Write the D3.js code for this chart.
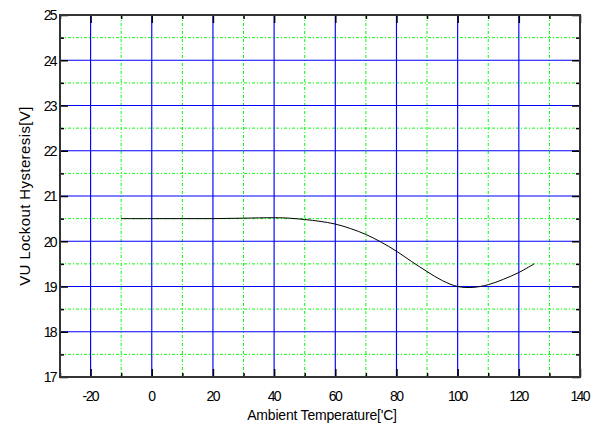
<!DOCTYPE html>
<html><head><meta charset="utf-8">
<script src="https://cdn.jsdelivr.net/npm/d3@7"></script>
<style>body{margin:0;background:#fff}svg{display:block}text{font-family:"Liberation Sans",Arial,sans-serif}</style>
</head><body>
<script>
const temps = [-10, 0, 10, 20, 30, 40, 45, 50, 55, 60, 65, 70, 75, 80, 85, 90, 95, 100, 105, 110, 115, 120, 125];
const hyst  = [20.5, 20.5, 20.5, 20.5, 20.51, 20.52, 20.51, 20.48, 20.44, 20.38, 20.28, 20.15, 19.98, 19.78, 19.55, 19.33, 19.13, 19.0, 18.98, 19.04, 19.16, 19.31, 19.5];
const xTicks = [-20, 0, 20, 40, 60, 80, 100, 120, 140];
const yTicks = [17, 18, 19, 20, 21, 22, 23, 24, 25];
const xMinor = [-30, -10, 10, 30, 50, 70, 90, 110, 130];
const yMinor = [17.5, 18.5, 19.5, 20.5, 21.5, 22.5, 23.5, 24.5];

const W = 591, H = 429;
const L = 60, R = 580, T = 15, B = 377;
const svg = d3.select("body").append("svg").attr("width", W).attr("height", H);
const x = d3.scaleLinear().domain([-30, 140]).range([L, R]);
const y = d3.scaleLinear().domain([17, 25]).range([B, T]);

// minor grid (green dotted)
svg.append("g").selectAll("line").data(xMinor.filter(v => v > -30)).join("line")
  .attr("x1", d => x(d)).attr("x2", d => x(d)).attr("y1", T).attr("y2", B)
  .attr("stroke", "#00ff00").attr("stroke-dasharray", "3,2,1,2").attr("stroke-width", 1);
svg.append("g").selectAll("line").data(yMinor).join("line")
  .attr("y1", d => y(d)).attr("y2", d => y(d)).attr("x1", L).attr("x2", R)
  .attr("stroke", "#00ff00").attr("stroke-dasharray", "3,2,1,2").attr("stroke-width", 1);
// major grid (blue)
svg.append("g").selectAll("line").data(xTicks.filter(v => v < 140)).join("line")
  .attr("x1", d => x(d)).attr("x2", d => x(d)).attr("y1", T).attr("y2", B)
  .attr("stroke", "#0000ff").attr("stroke-width", 1.15);
svg.append("g").selectAll("line").data(yTicks.filter(v => v > 17 && v < 25)).join("line")
  .attr("y1", d => y(d)).attr("y2", d => y(d)).attr("x1", L).attr("x2", R)
  .attr("stroke", "#0000ff").attr("stroke-width", 1.15);

// axes with inner ticks
const fmt = d => String(d);
const axL = svg.append("g").attr("transform", `translate(${L},0)`)
  .call(d3.axisLeft(y).tickValues(yTicks).tickSize(-8).tickPadding(14).tickFormat(fmt));
const axB = svg.append("g").attr("transform", `translate(0,${B})`)
  .call(d3.axisBottom(x).tickValues(xTicks).tickSize(-8).tickPadding(14).tickFormat(fmt));
svg.append("g").attr("transform", `translate(0,${T})`)
  .call(d3.axisTop(x).tickValues(xTicks).tickSize(-8).tickFormat(""));
svg.append("g").attr("transform", `translate(${R},0)`)
  .call(d3.axisRight(y).tickValues(yTicks).tickSize(-8).tickFormat(""));
// minor ticks
svg.append("g").attr("transform", `translate(${L},0)`).call(d3.axisLeft(y).tickValues(yMinor).tickSize(-4).tickFormat(""));
svg.append("g").attr("transform", `translate(${R},0)`).call(d3.axisRight(y).tickValues(yMinor).tickSize(-4).tickFormat(""));
svg.append("g").attr("transform", `translate(0,${B})`).call(d3.axisBottom(x).tickValues(xMinor).tickSize(-4).tickFormat(""));
svg.append("g").attr("transform", `translate(0,${T})`).call(d3.axisTop(x).tickValues(xMinor).tickSize(-4).tickFormat(""));
svg.selectAll(".domain").remove();
svg.selectAll(".tick line").attr("stroke", "#000").attr("stroke-width", 1.5);
svg.selectAll(".tick text").attr("font-size", 14).attr("fill", "#000")
  .style("font-family", '"Liberation Sans",Arial,sans-serif').attr("letter-spacing", "-1.6");
axL.selectAll(".tick text").attr("dx", 10).attr("dy", "0.35em");
axB.selectAll(".tick text").attr("dy", "0.68em").attr("dx", -0.8);

// frame
svg.append("rect").attr("x", L).attr("y", T).attr("width", R - L).attr("height", B - T)
  .attr("fill", "none").attr("stroke", "#333").attr("stroke-width", 2);

// curve
const line = d3.line().x((d, i) => x(temps[i])).y(d => y(d)).curve(d3.curveCatmullRom.alpha(0.5));
svg.append("path").datum(hyst).attr("d", line).attr("fill", "none").attr("stroke", "#000").attr("stroke-width", 1);

// labels
svg.append("text").attr("x", 322).attr("y", 420).attr("text-anchor", "middle")
  .attr("font-size", 14).attr("letter-spacing", "-0.2").text("Ambient Temperature['C]");
svg.append("text").attr("transform", `translate(30,196) rotate(-90)`).attr("text-anchor", "middle")
  .attr("font-size", 15).attr("letter-spacing", "0.4").text("VU Lockout Hysteresis[V]");
</script>
</body></html>
